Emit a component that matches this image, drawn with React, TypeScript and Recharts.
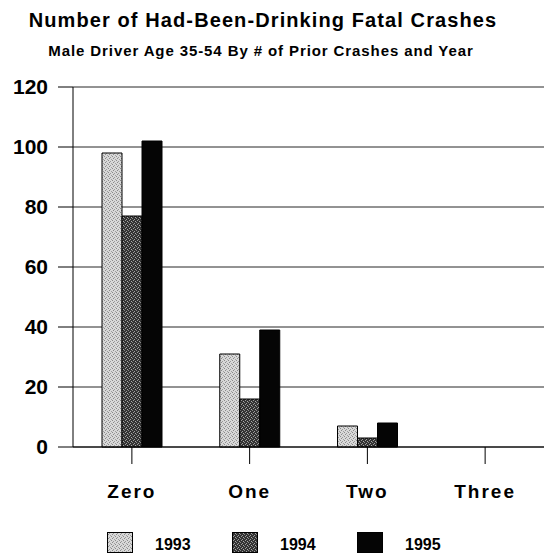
import { BarChart, Bar, XAxis, YAxis, CartesianGrid, Legend } from "recharts";

// values
const categories = ["Zero", "One", "Two", "Three"];
const y1993 = [98, 31, 7, 0];
const y1994 = [77, 16, 3, 0];
const y1995 = [102, 39, 8, 0];
const yTicks = [0, 20, 40, 60, 80, 100, 120];

const series = [
  { key: "1993", values: y1993, fill: "url(#p1993)" },
  { key: "1994", values: y1994, fill: "url(#p1994)" },
  { key: "1995", values: y1995, fill: "#050505" },
];

const data = categories.map((cat, i) => ({
  cat,
  "1993": y1993[i],
  "1994": y1994[i],
  "1995": y1995[i],
}));

const FONT = "'Liberation Sans', Arial, sans-serif";

// legend drawn as a row of swatches under the axis labels
const LegendRow = (props: any) => {
  const items = props.payload ?? [];
  const xs = [107, 232, 357];
  return (
    <div style={{ position: "relative", width: 544, height: 30 }}>
      {items.map((it: any, i: number) => (
        <div key={it.value}>
          <svg
            width={26}
            height={21}
            style={{ position: "absolute", left: xs[i], top: 0 }}
          >
            <rect x={0.5} y={0.5} width={25} height={20} fill={it.color} stroke="#000" />
          </svg>
          <div
            style={{
              position: "absolute",
              left: xs[i] + 48,
              top: 5,
              fontFamily: FONT,
              fontSize: 16,
              fontWeight: "bold",
              lineHeight: "16px",
              color: "#000",
            }}
          >
            {it.value}
          </div>
        </div>
      ))}
    </div>
  );
};

export default function App() {
  return (
    <div
      style={{
        position: "absolute",
        left: 0,
        top: 0,
        width: 544,
        height: 555,
        background: "#fff",
        fontFamily: FONT,
      }}
    >
      <div
        style={{
          position: "absolute",
          left: 0,
          top: 10,
          width: 526,
          textAlign: "center",
          fontSize: 20,
          fontWeight: "bold",
          lineHeight: "20px",
          letterSpacing: 1.1,
        }}
      >
        Number of Had-Been-Drinking Fatal Crashes
      </div>
      <div
        style={{
          position: "absolute",
          left: 0,
          top: 43,
          width: 522,
          textAlign: "center",
          fontSize: 15,
          fontWeight: "bold",
          lineHeight: "15px",
          letterSpacing: 0.9,
        }}
      >
        Male Driver Age 35-54 By # of Prior Crashes and Year
      </div>

      <BarChart
        width={544}
        height={555}
        data={data}
        margin={{ top: 87, right: 0, left: 0, bottom: 0 }}
        barGap={0}
        style={{ position: "absolute", left: 0, top: 0 }}
      >
        <defs>
          <pattern id="p1993" width={4} height={4} patternUnits="userSpaceOnUse">
            <rect width={4} height={4} fill="#d8d8d8" />
            <rect x={0} y={0} width={1} height={1} fill="#8a8a8a" />
            <rect x={2} y={1} width={1} height={1} fill="#9a9a9a" />
            <rect x={1} y={2} width={1} height={1} fill="#8a8a8a" />
            <rect x={3} y={3} width={1} height={1} fill="#a0a0a0" />
          </pattern>
          <pattern id="p1994" width={4} height={4} patternUnits="userSpaceOnUse">
            <rect width={4} height={4} fill="#333" />
            <rect x={1} y={0} width={1} height={1} fill="#9a9a9a" />
            <rect x={3} y={1} width={1} height={1} fill="#aaa" />
            <rect x={0} y={2} width={1} height={1} fill="#888" />
            <rect x={2} y={3} width={1} height={1} fill="#a0a0a0" />
          </pattern>
        </defs>
        <CartesianGrid vertical={false} stroke="#000" strokeOpacity={0.85} />
        <XAxis
          dataKey="cat"
          height={78}
          tickSize={17}
          tickMargin={21}
          axisLine={{ stroke: "#000" }}
          tickLine={{ stroke: "#000" }}
          tick={{
            fill: "#000",
            fontSize: 19,
            fontWeight: "bold",
            fontFamily: FONT,
            letterSpacing: 2,
          }}
        />
        <YAxis
          domain={[0, 120]}
          ticks={yTicks}
          width={73}
          tickSize={15}
          tickMargin={10}
          axisLine={{ stroke: "#000" }}
          tickLine={{ stroke: "#000" }}
          tick={{
            fill: "#000",
            fontSize: 21,
            fontWeight: "bold",
            fontFamily: FONT,
          }}
        />
        <Legend
          verticalAlign="bottom"
          content={<LegendRow />}
          wrapperStyle={{ position: "absolute", left: 0, top: 532, width: 544 }}
        />
        {series.map((s) => (
          <Bar
            key={s.key}
            dataKey={s.key}
            name={s.key}
            fill={s.fill}
            stroke="#000"
            strokeWidth={1}
            barSize={20}
            isAnimationActive={false}
          />
        ))}
      </BarChart>
    </div>
  );
}
